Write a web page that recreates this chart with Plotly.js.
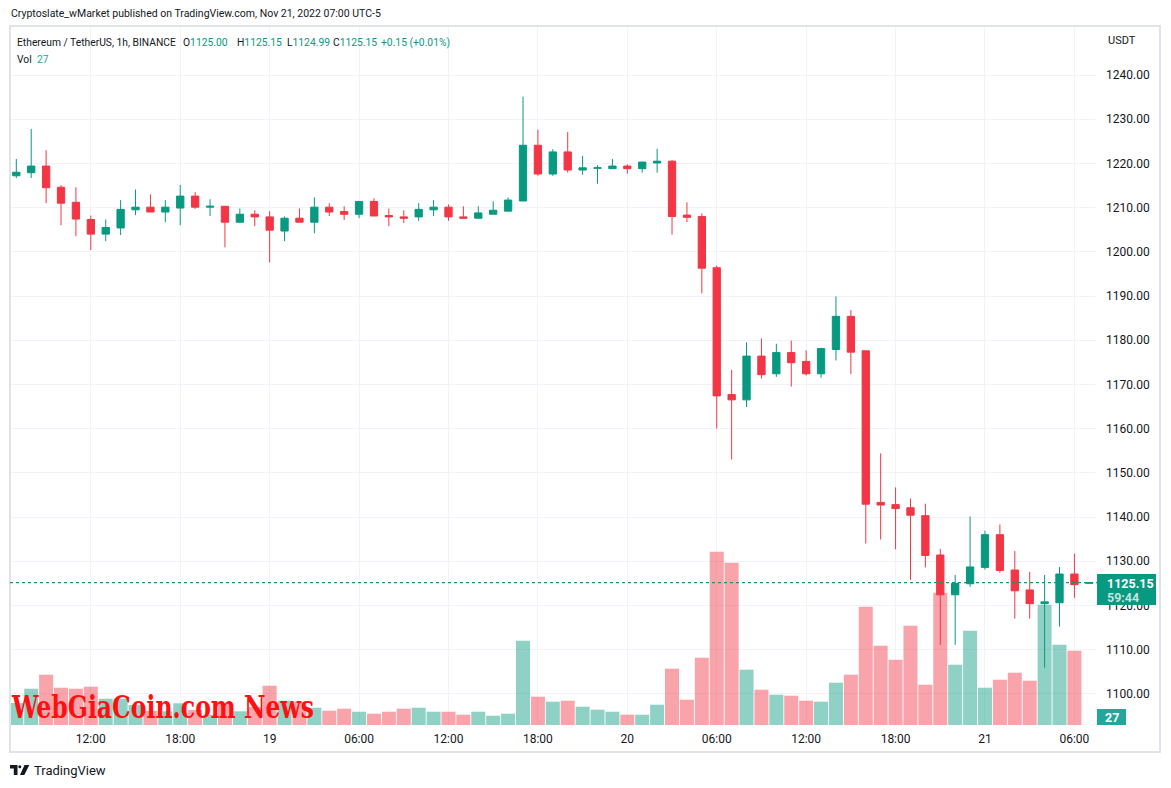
<!DOCTYPE html>
<html>
<head>
<meta charset="utf-8">
<script src="https://cdn.plot.ly/plotly-3.0.1.min.js"></script>
<style>
  html, body { margin: 0; padding: 0; background: #ffffff; }
  #chart { width: 1171px; height: 788px; }
</style>
</head>
<body>
<div id="chart"></div>
<script>
// ETH/USDT 1h candles, Binance, Nov 18 07:00 -> Nov 21 07:00 (UTC-5)
const startHour = Date.UTC(2022, 10, 18, 7); // first candle
const HOUR = 3600000;

const opens = [
  1217.2, 1217.9, 1219.4, 1214.6, 1211.2, 1207.3, 1204.0, 1205.4, 1209.5, 1210.1,
  1209.0, 1209.9, 1212.6, 1210.1, 1210.3, 1206.7, 1208.5, 1207.9, 1204.7, 1207.6,
  1206.7, 1210.1, 1209.1, 1208.5, 1211.4, 1208.2, 1207.9, 1207.9, 1209.5, 1210.1,
  1207.9, 1207.6, 1208.5, 1209.2, 1211.5, 1224.1, 1217.6, 1222.6, 1218.5, 1218.9,
  1218.8, 1219.4, 1218.8, 1220.1, 1220.5, 1208.3, 1208.0, 1196.4, 1167.7, 1166.5,
  1176.4, 1172.4, 1177.2, 1175.2, 1172.4, 1177.9, 1185.4, 1177.6, 1143.3, 1142.8,
  1142.1, 1140.3, 1131.4, 1122.4, 1124.9, 1128.6, 1136.0, 1128.0, 1123.5, 1120.4,
  1120.6, 1127.1, 1125.00
];
const highs = [
  1221.0, 1227.8, 1223.0, 1215.1, 1214.6, 1208.2, 1207.3, 1211.7, 1214.1, 1213.0,
  1211.7, 1215.1, 1213.5, 1211.9, 1210.3, 1209.8, 1209.4, 1209.2, 1208.0, 1209.8,
  1212.3, 1211.0, 1210.3, 1211.4, 1212.1, 1209.8, 1209.4, 1211.0, 1211.7, 1210.7,
  1210.3, 1210.3, 1211.4, 1212.3, 1235.1, 1227.6, 1223.2, 1227.1, 1221.7, 1219.6,
  1221.0, 1219.8, 1220.3, 1223.3, 1220.8, 1211.2, 1208.7, 1196.9, 1173.3, 1179.5,
  1180.4, 1179.2, 1179.9, 1177.7, 1178.3, 1189.9, 1186.8, 1177.6, 1154.4, 1146.7,
  1144.2, 1143.0, 1132.8, 1126.9, 1140.1, 1136.9, 1138.3, 1132.3, 1127.6, 1126.9,
  1128.7, 1131.7, 1125.15
];
const lows = [
  1216.7, 1216.7, 1211.0, 1206.0, 1203.5, 1200.4, 1202.4, 1203.8, 1208.3, 1209.0,
  1206.7, 1206.0, 1209.7, 1208.1, 1201.0, 1206.5, 1205.8, 1197.6, 1202.4, 1206.7,
  1204.2, 1208.1, 1207.2, 1207.6, 1208.1, 1205.8, 1206.5, 1207.0, 1208.1, 1207.0,
  1207.4, 1207.6, 1208.5, 1209.2, 1211.5, 1217.2, 1217.2, 1217.9, 1217.4, 1215.4,
  1218.8, 1217.7, 1217.9, 1217.9, 1203.9, 1206.7, 1190.6, 1160.0, 1153.0, 1164.9,
  1171.3, 1171.7, 1169.5, 1172.0, 1171.5, 1175.4, 1172.3, 1134.0, 1134.9, 1132.7,
  1125.8, 1128.6, 1111.1, 1111.1, 1124.2, 1128.1, 1127.4, 1117.0, 1117.0, 1105.9,
  1115.2, 1121.7, 1124.99
];
const closes = [
  1218.0, 1219.4, 1214.5, 1211.0, 1207.4, 1204.0, 1205.5, 1209.6, 1210.1, 1209.0,
  1210.1, 1212.6, 1210.1, 1210.3, 1206.7, 1208.5, 1207.9, 1204.9, 1207.6, 1206.7,
  1210.1, 1209.0, 1208.5, 1211.4, 1208.1, 1207.9, 1207.6, 1209.6, 1210.1, 1207.9,
  1207.6, 1208.8, 1209.4, 1211.7, 1224.1, 1217.6, 1222.6, 1218.5, 1219.0, 1219.0,
  1219.4, 1218.8, 1220.3, 1220.5, 1208.0, 1207.8, 1196.3, 1167.4, 1166.5, 1176.4,
  1172.2, 1177.2, 1174.9, 1172.4, 1178.1, 1185.4, 1177.3, 1142.9, 1142.7, 1141.9,
  1140.4, 1131.3, 1122.4, 1125.0, 1128.7, 1136.0, 1127.9, 1123.3, 1120.4, 1120.8,
  1127.1, 1124.7, 1125.15
];
const volumes = [
  4400, 7260, 10060, 7460, 7260, 7660, 5260, 5260, 4000, 2800,
  2740, 4340, 3000, 2060, 4460, 2740, 3600, 7860, 4860, 4660,
  3460, 2860, 3260, 2660, 2260, 2660, 3260, 3460, 2660, 2660,
  2060, 2660, 1860, 2260, 16860, 5660, 4660, 4860, 3660, 3060,
  2660, 2060, 2060, 4060, 11260, 5060, 13460, 34660, 32460, 11060,
  7060, 6060, 5860, 4860, 4660, 8460, 10060, 23660, 15860, 13060,
  19860, 8060, 26460, 12060, 18860, 7460, 9060, 10460, 8860, 24060,
  16060, 14860, 27
];

const tickTimes = [
  '2022-11-18 12:00', '2022-11-18 18:00', '2022-11-19 00:00', '2022-11-19 06:00',
  '2022-11-19 12:00', '2022-11-19 18:00', '2022-11-20 00:00', '2022-11-20 06:00',
  '2022-11-20 12:00', '2022-11-20 18:00', '2022-11-21 00:00', '2022-11-21 06:00'
];
const tickLabels = ['12:00', '18:00', '19', '06:00', '12:00', '18:00', '20', '06:00', '12:00', '18:00', '21', '06:00'];
const priceTicks = [1100, 1110, 1120, 1130, 1140, 1150, 1160, 1170, 1180, 1190, 1200, 1210, 1220, 1230, 1240];

const lastClose = 1125.15;
const lastVolume = 27;

const UP = '#089981';
const DOWN = '#f23645';
const TEXT = '#131722';

function fmt(ms) {
    const d = new Date(ms);
    const p = n => String(n).padStart(2, '0');
    return d.getUTCFullYear() + '-' + p(d.getUTCMonth() + 1) + '-' + p(d.getUTCDate()) + ' ' + p(d.getUTCHours()) + ':00';
}
const times = opens.map((_, i) => fmt(startHour + i * HOUR));

// page geometry (pixels) -> paper coords
const W = 1171, H = 788;
const M = { l: 10, r: 74, t: 27, b: 63 };
const PW = W - M.l - M.r, PH = H - M.t - M.b;
const px = x => (x - M.l) / PW;
const py = y => (H - M.b - y) / PH;

const volColors = opens.map((o, i) => closes[i] >= o ? 'rgba(8,153,129,0.45)' : 'rgba(242,54,69,0.45)');

const volTrace = {
    type: 'bar',
    x: times,
    y: volumes,
    marker: { color: volColors, line: { width: 0 } },
    yaxis: 'y',
    hoverinfo: 'skip'
};

const candleTrace = {
    type: 'candlestick',
    x: times,
    open: opens,
    high: highs,
    low: lows,
    close: closes,
    yaxis: 'y2',
    increasing: { line: { color: UP, width: 1 }, fillcolor: UP },
    decreasing: { line: { color: DOWN, width: 1 }, fillcolor: DOWN },
    whiskerwidth: 0,
    hoverinfo: 'skip'
};

function label(text, x, y, size, color, extra) {
    return Object.assign({
        text: text, xref: 'paper', yref: 'paper', x: px(x), y: py(y),
        xanchor: 'left', yanchor: 'middle', align: 'left', showarrow: false, borderpad: 0,
        font: { size: size, color: color, family: 'Roboto, sans-serif' }
    }, extra || {});
}

const g = s => '<span style="color:' + TEXT + '">' + s + '</span>';

const annotations = [
    label('Cryptoslate_wMarket published on TradingView.com, Nov 21, 2022 07:00 UTC-5', 10, 14, 10.5, TEXT),
    label('Ethereum / TetherUS, 1h, BINANCE', 16, 42.5, 10.3, TEXT),
    label(g('O') + '1125.00', 182, 42.5, 10.3, UP),
    label(g('H') + '1125.15', 236, 42.5, 10.3, UP),
    label(g('L') + '1124.99', 286, 42.5, 10.3, UP),
    label(g('C') + '1125.15', 332, 42.5, 10.3, UP),
    label('+0.15 (+0.01%)', 380, 42.5, 10.3, UP),
    label('Vol', 16, 59, 10.3, TEXT),
    label(String(lastVolume), 36, 59, 10.3, '#22ab94'),
    label('USDT', 1107, 41, 11, TEXT),
    label('<b>1125.15</b>', 1106, 583, 12.5, '#ffffff'),
    label('<b>59:44</b>', 1106, 597, 12.5, 'rgba(255,255,255,0.75)'),
    label('<b>' + lastVolume + '</b>', 1111.5, 717, 12.5, '#ffffff', { xanchor: 'center', align: 'center' }),
    label('WebGiaCoin.com News', 10, 707, 31, '#ff1010', {
        font: { size: 31, color: '#ff1010', family: 'DejaVu Serif Condensed, serif', weight: 900 }
    }),
    label('TradingView', 33, 770, 13, TEXT)
];

const shapes = [
    // outer frame
    { type: 'rect', xref: 'paper', yref: 'paper', x0: px(10), x1: px(1160), y0: py(26), y1: py(752),
      line: { color: '#e0e3eb', width: 2 }, fillcolor: 'rgba(0,0,0,0)', layer: 'above' },
    // last price dotted line
    { type: 'line', xref: 'paper', yref: 'y2', x0: 0, x1: 1, y0: lastClose, y1: lastClose,
      line: { color: UP, width: 1.2, dash: 'dot' } },
    // last price box
    { type: 'rect', xref: 'paper', yref: 'paper', x0: px(1097), x1: px(1156), y0: py(574), y1: py(605),
      fillcolor: UP, line: { width: 0 } },
    // volume box
    { type: 'rect', xref: 'paper', yref: 'paper', x0: px(1097), x1: px(1126), y0: py(709), y1: py(725),
      fillcolor: '#26a69a', line: { width: 0 } },
    // TradingView logo
    { type: 'path', xref: 'paper', yref: 'paper',
      path: 'M' + px(10) + ',' + py(765) + ' L' + px(17.5) + ',' + py(765) + ' L' + px(17.5) + ',' + py(775) +
            ' L' + px(13.8) + ',' + py(775) + ' L' + px(13.8) + ',' + py(768.5) + ' L' + px(10) + ',' + py(768.5) + ' Z',
      fillcolor: TEXT, line: { width: 0 } },
    { type: 'circle', xref: 'paper', yref: 'paper', x0: px(18.3), x1: px(21.3), y0: py(765.3), y1: py(768.3),
      fillcolor: TEXT, line: { width: 0 } },
    { type: 'path', xref: 'paper', yref: 'paper',
      path: 'M' + px(24.5) + ',' + py(765) + ' L' + px(29.3) + ',' + py(765) + ' L' + px(24.3) + ',' + py(775) +
            ' L' + px(20) + ',' + py(775) + ' Z',
      fillcolor: TEXT, line: { width: 0 } }
];

const layout = {
    width: W,
    height: H,
    margin: { l: M.l, r: M.r, t: M.t, b: M.b, pad: 0 },
    paper_bgcolor: '#ffffff',
    plot_bgcolor: '#ffffff',
    showlegend: false,
    bargap: 0.06,
    boxgap: 0.3,
    font: { family: 'Roboto, sans-serif', size: 12, color: TEXT },
    xaxis: {
        type: 'date',
        range: [startHour - 0.4227 * HOUR, startHour + 72.516 * HOUR],
        tickvals: tickTimes,
        ticktext: tickLabels,
        showgrid: true,
        gridcolor: '#f0f3fa',
        gridwidth: 1,
        zeroline: false,
        showline: false,
        ticks: '',
        ticklabelstandoff: 5,
        tickfont: { size: 12, color: TEXT },
        rangeslider: { visible: false },
        fixedrange: true
    },
    yaxis: {
        range: [0, PH * 200],
        visible: false,
        showgrid: false,
        fixedrange: true
    },
    yaxis2: {
        overlaying: 'y',
        side: 'right',
        range: [1240 - (H - M.b - 75) / 4.42, 1240 + (75 - M.t) / 4.42],
        tickvals: priceTicks,
        ticktext: priceTicks.map(v => v.toFixed(2)),
        showgrid: true,
        gridcolor: '#f0f3fa',
        gridwidth: 1,
        zeroline: false,
        showline: false,
        ticks: '',
        ticklabelstandoff: 8,
        tickfont: { size: 12, color: TEXT },
        fixedrange: true
    },
    annotations: annotations,
    shapes: shapes
};

Plotly.newPlot('chart', [volTrace, candleTrace], layout, { staticPlot: true, displayModeBar: false })
    .then(function () {
        // squeeze the watermark to the width it has in the screenshot
        document.querySelectorAll('.annotation-text').forEach(function (t) {
            if (t.textContent === 'WebGiaCoin.com News') {
                t.setAttribute('textLength', 302);
                t.setAttribute('lengthAdjust', 'spacingAndGlyphs');
            }
        });
    });
</script>
</body>
</html>
